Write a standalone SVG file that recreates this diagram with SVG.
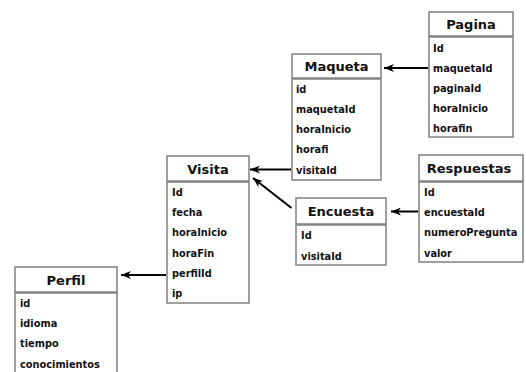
<svg xmlns="http://www.w3.org/2000/svg" width="526" height="372" viewBox="0 0 526 372">
<style>
.box{fill:#fff;stroke:#808080;stroke-width:1.5}
.hd{font-family:"DejaVu Sans",Verdana,sans-serif;font-weight:bold;font-size:13px;fill:#111;text-anchor:middle}
.row{font-family:"DejaVu Sans",Verdana,sans-serif;font-weight:bold;font-size:9.8px;fill:#111}
.conn{stroke:#000;stroke-width:2;fill:none;marker-end:url(#ah)}
</style>
<defs>
<marker id="ah" markerUnits="userSpaceOnUse" markerWidth="10" markerHeight="8" viewBox="0 0 10 8" refX="10" refY="4" orient="auto">
<path d="M0,0 L10,4 L0,8 L3,4 z" fill="#000"/>
</marker>
</defs>
<rect width="526" height="372" fill="#fff"/>
<g id="connectors">
<line class="conn" x1="428" y1="68" x2="384" y2="68"/>
<line class="conn" x1="291" y1="169.5" x2="250" y2="169.5"/>
<line class="conn" x1="291.5" y1="208" x2="253" y2="178"/>
<line class="conn" x1="418" y1="211.5" x2="391" y2="211.5"/>
<line class="conn" x1="166" y1="275" x2="121" y2="275"/>
</g>
<g id="pagina">
<rect class="box" x="429" y="12" width="84" height="24"/>
<rect class="box" x="429" y="37" width="84" height="100"/>
<text class="hd" x="471" y="29">Pagina</text>
<text class="row" x="433" y="52">Id</text>
<text class="row" x="433" y="72">maquetaId</text>
<text class="row" x="433" y="92">paginaId</text>
<text class="row" x="433" y="112">horaInicio</text>
<text class="row" x="433" y="131.5">horafin</text>
</g>
<g id="maqueta">
<rect class="box" x="292" y="54" width="89" height="24"/>
<rect class="box" x="292" y="79" width="89" height="101"/>
<text class="hd" x="336.5" y="71">Maqueta</text>
<text class="row" x="296" y="93">id</text>
<text class="row" x="296" y="113">maquetaId</text>
<text class="row" x="296" y="133">horaInicio</text>
<text class="row" x="296" y="153">horafi</text>
<text class="row" x="296" y="173.5">visitaId</text>
</g>
<g id="visita">
<rect class="box" x="167" y="156" width="82" height="25"/>
<rect class="box" x="167" y="182" width="82" height="121"/>
<text class="hd" x="208" y="173.5">Visita</text>
<text class="row" x="172" y="195.5">Id</text>
<text class="row" x="172" y="215.5">fecha</text>
<text class="row" x="172" y="235.5">horaInicio</text>
<text class="row" x="172" y="256.5">horaFin</text>
<text class="row" x="172" y="276.5">perfilId</text>
<text class="row" x="172" y="296.5">ip</text>
</g>
<g id="encuesta">
<rect class="box" x="296" y="198" width="90" height="26"/>
<rect class="box" x="296" y="225" width="90" height="40"/>
<text class="hd" x="341" y="216">Encuesta</text>
<text class="row" x="301" y="238.5">Id</text>
<text class="row" x="301" y="259.5">visitaId</text>
</g>
<g id="respuestas">
<rect class="box" x="419" y="155" width="104" height="26"/>
<rect class="box" x="419" y="182" width="104" height="80"/>
<text class="hd" x="469" y="173">Respuestas</text>
<text class="row" x="424" y="195.5">Id</text>
<text class="row" x="424" y="215.5">encuestaId</text>
<text class="row" x="424" y="235.5">numeroPregunta</text>
<text class="row" x="424" y="256.5">valor</text>
</g>
<g id="perfil">
<rect class="box" x="15" y="267" width="102" height="25"/>
<rect class="box" x="15" y="293" width="102" height="90"/>
<text class="hd" x="66" y="284.5">Perfil</text>
<text class="row" x="20" y="306.5">id</text>
<text class="row" x="20" y="326.5">idioma</text>
<text class="row" x="20" y="347">tiempo</text>
<text class="row" x="20" y="367.5">conocimientos</text>
</g>
</svg>
